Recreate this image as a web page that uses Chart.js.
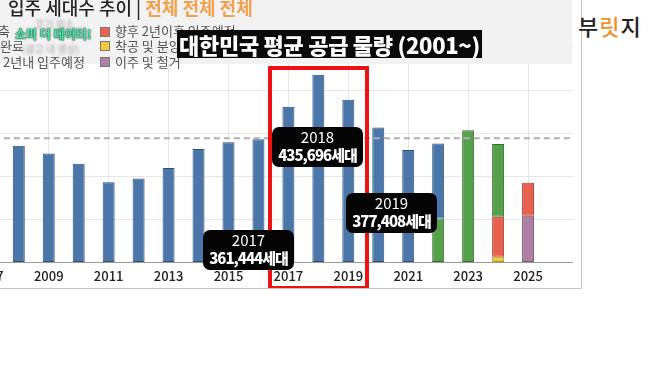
<!DOCTYPE html>
<html>
<head>
<meta charset="utf-8">
<script src="https://cdn.jsdelivr.net/npm/chart.js@4"></script>
<style>
  body { margin: 0; width: 658px; height: 370px; background: #fff; overflow: hidden; position: relative;
         font-family: "Noto Sans CJK KR", "Noto Sans", sans-serif; }
  #card { position: absolute; left: 0; top: 0; width: 581px; height: 288px; background: #fff;
          border-right: 1px solid #c4c4c4; border-bottom: 1px solid #c4c4c4; overflow: hidden; }
  #plot { position: absolute; left: -32px; top: 47px; width: 605px; height: 243px; }
  #header { position: absolute; left: 0; top: 0; width: 572px; height: 64px; background: #f2f2f2; z-index: 2; }
  .abs { position: absolute; white-space: nowrap; }
  #title { left: 8px; top: -6px; font-size: 18px; font-weight: 500; color: #222; }
  #title span { color: #f0a24e; font-weight: 700; }
  .lg { font-size: 13px; color: #555; line-height: 16px; }
  .sw { position: absolute; width: 8px; height: 8px; border: 1px solid #777; }
  #big { left: 177px; top: 30px; width: 305px; height: 28px; background: #0a0a0a; color: #fff; z-index: 3;
         font-size: 22px; font-weight: 900; line-height: 28px; text-align: center; letter-spacing: -0.3px; }
  #redbox { left: 268px; top: 66px; width: 93px; height: 216px; border: 4px solid #ee1111; z-index: 3; }
  .call { position: absolute; background: #050505; color: #fff; border-radius: 7px; text-align: center; z-index: 4;
          width: 91px; height: 39px; line-height: 18px; padding-top: 1px; }
  .call .y { font-size: 15px; font-weight: 400; }
  .call .v { font-size: 15px; font-weight: 900; letter-spacing: -1px; }
  #somi { left: 15px; top: 25px; font-size: 12px; font-weight: 900; color: #4fe39a; z-index: 3;
          text-shadow: 0 0 2px #134, 0 0 1px #134; }
  .blur { color: #aaa; font-size: 10px; filter: blur(0.8px); z-index: 3; }
  #logo { left: 578px; top: 9px; font-size: 22px; font-weight: 500; color: #222; letter-spacing: 1px; }
  #logo span { color: #f0902e; }
</style>
</head>
<body>
<div id="card">
  <div id="plot"><canvas id="chart"></canvas></div>
  <div id="header">
    <div class="abs" id="title">입주 세대수 추이 | <span>전체 전체 전체</span></div>
    <div class="abs lg" style="left:-2px; top:23px;">축</div>
    <div class="abs lg" style="left:0px; top:38px;">완료</div>
    <div class="abs lg" style="left:3px; top:54px;">2년내 입주예정</div>
    <div class="sw" style="left:100px; top:27px; background:#e8614e;"></div>
    <div class="sw" style="left:100px; top:41px; background:#f2c940;"></div>
    <div class="sw" style="left:100px; top:57px; background:#b07fa5;"></div>
    <div class="abs lg" style="left:115px; top:23px;">향후 2년이후 입주예정</div>
    <div class="abs lg" style="left:115px; top:38px;">착공 및 분양</div>
    <div class="abs lg" style="left:115px; top:54px;">이주 및 철거</div>
  </div>
  <div class="abs blur" style="left:35px; top:16px;">코기 외소 ...</div>
  <div class="abs" id="somi">소미 더 데이터!</div>
  <div class="abs blur" style="left:22px; top:41px;">(광고 내 영상)</div>
  <div class="abs" id="big">대한민국 평균 공급 물량 (2001~)</div>
  <div class="abs" id="redbox"></div>
  <div class="call" style="left:272px; top:127px;"><div class="y">2018</div><div class="v">435,696세대</div></div>
  <div class="call" style="left:203px; top:230px;"><div class="y">2017</div><div class="v">361,444세대</div></div>
  <div class="call" style="left:346px; top:193px;"><div class="y">2019</div><div class="v">377,408세대</div></div>
</div>
<div class="abs" id="logo">부<span>릿</span>지</div>

<script>
const years = [2007, 2008, 2009, 2010, 2011, 2012, 2013, 2014, 2015, 2016,
               2017, 2018, 2019, 2020, 2021, 2022, 2023, 2024, 2025, 2026];
// 입주 완료 (blue)
const completed = [null, 271000, 253000, 229000, 186000, 195000, 219000, 263000, 279000, 286000,
                   361444, 435696, 377408, 313000, 261000, 174000, null, null, null, null];
// 2년내 입주예정 (green)
const within2Years = [null, null, null, null, null, null, null, null, null, null,
                      null, null, null, null, null, 102000, 307000, 169000, null, null];
// 향후 2년이후 입주예정 (red)
const after2Years = [null, null, null, null, null, null, null, null, null, null,
                     null, null, null, null, null, null, null, 93000, 77000, null];
// 착공 및 분양 (yellow)
const startedSale = [null, null, null, null, null, null, null, null, null, null,
                     null, null, null, null, null, null, null, 13000, null, null];
// 이주 및 철거 (purple)
const relocation = [null, null, null, null, null, null, null, null, null, null,
                    null, null, null, null, null, null, null, null, 108000, null];
const averageSupply = 288000;

const avgLine = {
    id: "avgLine",
    afterDatasetsDraw(chart) {
        const { ctx, chartArea, scales } = chart;
        const y = scales.y.getPixelForValue(averageSupply);
        ctx.save();
        ctx.strokeStyle = "#b0b0b0";
        ctx.lineWidth = 2;
        ctx.setLineDash([6, 4]);
        ctx.beginPath();
        ctx.moveTo(chartArea.left, y);
        ctx.lineTo(chartArea.right, y);
        ctx.stroke();
        ctx.restore();
    }
};

function bar(label, data, fill, border) {
    return {
        label: label,
        data: data,
        backgroundColor: fill,
        borderColor: border,
        borderWidth: 1,
        borderSkipped: false,
        barPercentage: 0.5,
        categoryPercentage: 0.8
    };
}

new Chart(document.getElementById("chart"), {
    type: "bar",
    data: {
        labels: years,
        datasets: [
            bar("착공 및 분양", startedSale, "#f2c940", "#b8922a"),
            bar("이주 및 철거", relocation, "#b07fa5", "#7d5677"),
            bar("향후 2년이후 입주예정", after2Years, "#e8614e", "#a8412f"),
            bar("2년내 입주예정", within2Years, "#55a04a", "#356d2e"),
            bar("입주 완료", completed, "#4a76aa", "#2c4f7c")
        ]
    },
    options: {
        responsive: true,
        maintainAspectRatio: false,
        animation: false,
        layout: { padding: 0 },
        plugins: {
            legend: { display: false },
            tooltip: { enabled: false }
        },
        scales: {
            x: {
                stacked: true,
                grid: {
                    offset: false,
                    drawTicks: false,
                    color: (c) => (c.index % 2 === 0 ? "#e6e6e6" : "rgba(0,0,0,0)")
                },
                border: { color: "#9a9a9a", width: 1 },
                ticks: {
                    autoSkip: false,
                    maxRotation: 0,
                    padding: 6,
                    color: "#222",
                    font: { family: "Noto Sans CJK KR", size: 13, weight: 500 },
                    callback: (v, i) => (i % 2 === 0 ? String(years[i]) : "")
                }
            },
            y: {
                stacked: true,
                min: 0,
                max: 500000,
                grid: { color: "#e6e6e6", drawTicks: false },
                border: { display: false },
                ticks: { display: false, stepSize: 100000 }
            }
        }
    },
    plugins: [avgLine]
});
</script>
</body>
</html>
